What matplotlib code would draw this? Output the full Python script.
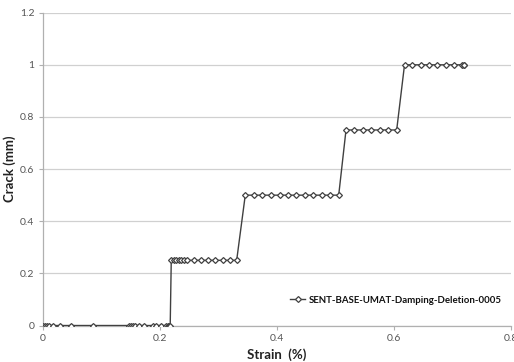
import matplotlib
matplotlib.use("Agg")
import matplotlib.pyplot as plt

# Strain (%) and crack length (mm) for each recorded increment
strain_0 = [0.0, 0.0034, 0.0068, 0.011, 0.018, 0.030, 0.048, 0.086, 0.148, 0.151,
            0.154, 0.158, 0.164, 0.173, 0.188, 0.193, 0.203, 0.211, 0.214, 0.216, 0.218]
strain_1 = [0.2198, 0.2245, 0.2287, 0.233, 0.2373, 0.2419, 0.2467, 0.2588, 0.2710,
            0.2831, 0.2952, 0.3074, 0.3195, 0.3316]
strain_2 = [0.3463, 0.3612, 0.3754, 0.3903, 0.4051, 0.4193, 0.4335, 0.4479, 0.4626,
            0.4770, 0.4911, 0.5060]
strain_3 = [0.5185, 0.5327, 0.5476, 0.5618, 0.5761, 0.5903, 0.6051]
strain_4 = [0.6185, 0.6321, 0.6463, 0.6603, 0.6745, 0.6889, 0.7031, 0.7173, 0.7197, 0.7210]

crack_levels = [0.0, 0.25, 0.5, 0.75, 1.0]
series_name = "SENT-BASE-UMAT-Damping-Deletion-0005"

x_ticks = [0, 0.2, 0.4, 0.6, 0.8]
x_tick_labels = ["0", "0.2", "0.4", "0.6", "0.8"]
y_ticks = [0, 0.2, 0.4, 0.6, 0.8, 1.0, 1.2]
y_tick_labels = ["0", "0.2", "0.4", "0.6", "0.8", "1", "1.2"]

strain = []
crack = []
for xs, level in zip([strain_0, strain_1, strain_2, strain_3, strain_4], crack_levels):
    strain += xs
    crack += [level] * len(xs)

plt.rcParams["font.family"] = ["Lato", "DejaVu Sans"]

fig = plt.figure(figsize=(5.14, 3.62), dpi=100)
ax = fig.add_axes([0.083, 0.1008, 0.9106, 0.8642])

ax.plot(strain, crack, color="#404040", linewidth=1.0, marker="D", markersize=3.0,
        markerfacecolor="white", markeredgecolor="#404040", markeredgewidth=0.9,
        label=series_name, zorder=3)

ax.set_xlim(0, 0.8)
ax.set_ylim(0, 1.2)
ax.set_xticks(x_ticks)
ax.set_xticklabels(x_tick_labels)
ax.set_yticks(y_ticks)
ax.set_yticklabels(y_tick_labels)

ax.yaxis.grid(True, color="#d0d0d0", linewidth=0.9)
ax.set_axisbelow(True)
for side in ["top", "right"]:
    ax.spines[side].set_visible(False)
for side in ["left", "bottom"]:
    ax.spines[side].set_color("#b0b0b0")
    ax.spines[side].set_linewidth(0.9)

ax.tick_params(axis="both", direction="out", length=3, width=0.8, color="#b0b0b0",
               labelsize=7.5, labelcolor="#555555", pad=3)

ax.set_xlabel("Strain  (%)", fontsize=9.5, fontweight="bold", color="#222222", labelpad=4)
ax.set_ylabel("Crack (mm)", fontsize=9.5, fontweight="bold", color="#222222", labelpad=3)

leg = ax.legend(loc="lower right", bbox_to_anchor=(0.995, 0.045), frameon=False,
                fontsize=6.9, handlelength=1.6, handletextpad=0.35, borderaxespad=0.3)
for t in leg.get_texts():
    t.set_fontweight("bold")
    t.set_color("#111111")

fig.savefig("out.png", dpi=100)
